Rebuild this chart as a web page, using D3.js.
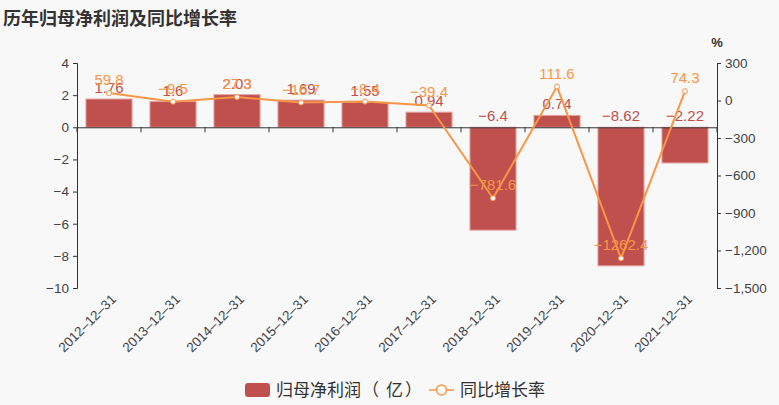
<!DOCTYPE html>
<html><head><meta charset="utf-8">
<script src="https://cdn.jsdelivr.net/npm/d3@7"></script>
<style>
body{margin:0;background:#f8f8f8;}
svg{display:block;font-family:"Liberation Sans",Arial,"Noto Sans CJK SC",sans-serif;}
</style></head><body>
<svg id="c" width="779" height="405"></svg>
<script>
const categories = ["2012-12-31","2013-12-31","2014-12-31","2015-12-31","2016-12-31","2017-12-31","2018-12-31","2019-12-31","2020-12-31","2021-12-31"];
const profit = [1.76, 1.6, 2.03, 1.69, 1.55, 0.94, -6.4, 0.74, -8.62, -2.22];
const growth = [59.8, -9.5, 27.3, -16.7, -8.4, -39.4, -781.6, 111.6, -1262.4, 74.3];
const leftTicks = [4, 2, 0, -2, -4, -6, -8, -10];
const rightTicks = [300, 0, -300, -600, -900, -1200, -1500];
const title = "历年归母净利润及同比增长率";
const legendNames = ["归母净利润（亿）", "同比增长率"];

(function () {
const svg = d3.select("#c");
const pL = 77, pR = 717, pT = 63, pB = 288;
const barColor = "#c0504d", lineColor = "#f79646", textColor = "#333";
const cjk = "'Noto Sans CJK SC',sans-serif";
const minus = s => s.replace(/-/g, "\u2212");
const fmtAxis = v => minus(d3.format(",")(v));
const fmtVal = v => minus(String(v));

const x = d3.scaleBand().domain(categories).range([pL, pR]).paddingInner(0.28).paddingOuter(0.14);
const yL = d3.scaleLinear().domain([-10, 4]).range([pB, pT]);
const yR = d3.scaleLinear().domain([-1500, 300]).range([pB, pT]);

svg.append("text").attr("x", 3).attr("y", 25).text(title)
  .attr("font-family", cjk).attr("font-weight", "bold").attr("font-size", 18).attr("fill", textColor);
svg.append("text").attr("x", 717).attr("y", 47).text("%").attr("text-anchor", "middle")
  .attr("font-weight", "bold").attr("font-size", 13).attr("fill", textColor);

const gL = svg.append("g").attr("transform", `translate(${pL},0)`)
  .call(d3.axisLeft(yL).tickValues(leftTicks).tickSize(4).tickPadding(4).tickFormat(fmtAxis));
const gR = svg.append("g").attr("transform", `translate(${pR},0)`)
  .call(d3.axisRight(yR).tickValues(rightTicks).tickSize(4).tickPadding(4).tickFormat(fmtAxis));
[gL, gR].forEach(g => {
  g.select(".domain").attr("stroke", "#333");
  g.selectAll(".tick line").attr("stroke", "#333");
  g.selectAll(".tick text").attr("fill", "#444").attr("font-size", 13.5).attr("font-family", "'Liberation Sans',Arial,sans-serif");
});

svg.append("g").selectAll("rect").data(profit).join("rect")
  .attr("x", (d, i) => x(categories[i]))
  .attr("width", x.bandwidth())
  .attr("y", d => yL(Math.max(0, d)))
  .attr("height", d => Math.abs(yL(d) - yL(0)))
  .attr("fill", barColor).attr("stroke", "#e3a3a1").attr("stroke-width", 1);

const gX = svg.append("g").attr("transform", `translate(0,${yL(0)})`)
  .call(d3.axisBottom(x).tickSize(5).tickFormat(""));
gX.select(".domain").attr("stroke", "#333");
gX.selectAll(".tick line").attr("stroke", "#333").attr("transform", `translate(${-x.step()/2},0)`);
gX.append("line").attr("x1", pR).attr("x2", pR).attr("y1", 0).attr("y2", 5).attr("stroke", "#333");

svg.append("g").selectAll("text").data(categories).join("text")
  .attr("transform", d => `translate(${x(d) + x.bandwidth()/2 + 8},${pB + 12}) rotate(-45)`)
  .attr("text-anchor", "end").attr("font-size", 13.5).attr("fill", "#444")
  .text(d => d.replace(/-/g, "\u2013"));

svg.append("g").selectAll("text").data(profit).join("text")
  .attr("x", (d, i) => x(categories[i]) + x.bandwidth()/2)
  .attr("y", d => yL(Math.max(0, d)) - 6)
  .attr("text-anchor", "middle").attr("font-size", 15).attr("fill", barColor)
  .text(d => fmtVal(d));

const cx = (d, i) => x(categories[i]) + x.bandwidth()/2;
svg.append("path").datum(growth)
  .attr("d", d3.line().x(cx).y(d => yR(d)))
  .attr("fill", "none").attr("stroke", lineColor).attr("stroke-width", 2);
svg.append("g").selectAll("circle").data(growth).join("circle")
  .attr("cx", cx).attr("cy", d => yR(d)).attr("r", 2.5)
  .attr("fill", "#fff").attr("stroke", lineColor).attr("stroke-width", 1);
svg.append("g").selectAll("text").data(growth).join("text")
  .attr("x", cx).attr("y", d => yR(d) - 8)
  .attr("text-anchor", "middle").attr("font-size", 15).attr("fill", lineColor)
  .text(d => fmtVal(d));

const lg = svg.append("g");
lg.append("rect").attr("x", 245).attr("y", 383).attr("width", 25).attr("height", 14).attr("rx", 3).attr("fill", barColor);
const t0 = lg.append("text").attr("y", 396)
  .attr("font-family", cjk).attr("font-size", 17).attr("fill", textColor);
const name0 = legendNames[0];
const parts = [name0.slice(0, 5), name0.slice(5, 6), name0.slice(6, 7), name0.slice(7)];
const partX = [276, 362, 386, 405];
parts.forEach((p, i) => t0.append("tspan").attr("x", partX[i]).text(p));
lg.append("line").attr("x1", 429).attr("x2", 454).attr("y1", 390).attr("y2", 390).attr("stroke", lineColor).attr("stroke-width", 1.5);
lg.append("circle").attr("cx", 441.5).attr("cy", 390).attr("r", 5).attr("fill", "#fff").attr("stroke", lineColor).attr("stroke-width", 1.5);
lg.append("text").attr("x", 460).attr("y", 396).text(legendNames[1])
  .attr("font-family", cjk).attr("font-size", 17).attr("fill", textColor);
})();
</script></body></html>
